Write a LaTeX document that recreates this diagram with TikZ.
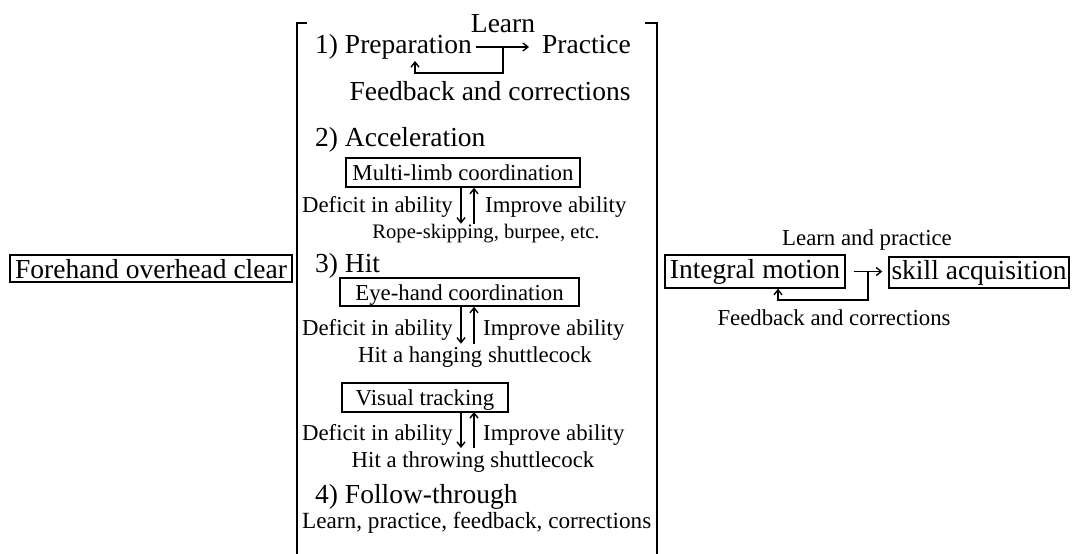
\documentclass[tikz,border=0pt]{standalone}
\usepackage{fontspec}
\setmainfont{Liberation Serif}
\usetikzlibrary{arrows.meta}
\begin{document}
\begin{tikzpicture}[x=1pt,y=-1pt,
  big/.style={font=\fontsize{27.5}{30}\selectfont, inner sep=0pt},
  small/.style={font=\fontsize{22.8}{26}\selectfont, inner sep=0pt},
  tiny/.style={font=\fontsize{20.6}{24}\selectfont, inner sep=0pt},
  box/.style={draw, line width=1.4pt, inner sep=0pt, text height=16pt, text depth=0pt},
  ln/.style={line width=1.4pt},
  arr/.style={line width=1.4pt, -{Straight Barb[length=5pt,width=8pt]}},
  brk/.style={line width=1.8pt}]
\useasboundingbox (0,0) rectangle (1076,554);
% left box
\node[box, big, minimum width=282, minimum height=27, text height=19pt] (fo) at (151,268.5) {Forehand overhead clear};
% brackets
\coordinate (bl1) at (307,23); \coordinate (bl2) at (297,23); \coordinate (bl3) at (297,554);
\coordinate (br1) at (645,23); \coordinate (br2) at (657,23); \coordinate (br3) at (657,554);
\draw[brk] (bl1) -- (bl2) -- (bl3);
\draw[brk] (br1) -- (br2) -- (br3);
% 1) Preparation
\node[big, anchor=base west] (prep) at (315,53) {1) Preparation};
\node[big, anchor=base west] (prac) at (542,53) {Practice};
\node[big, anchor=base] (learn) at (503,32) {Learn};
\node[big, anchor=base] (fb1) at (490,100) {Feedback and corrections};
\coordinate (p1) at (476,47); \coordinate (p2) at (529,47);
\draw[arr] (p1) -- (p2);
\coordinate (q1) at (503,47); \coordinate (q2) at (503,73); \coordinate (q3) at (415,73); \coordinate (q4) at (415,61);
\draw[arr] (q1) -- (q2) -- (q3) -- (q4);
% 2) Acceleration
\node[big, anchor=base west] (acc) at (315,146) {2) Acceleration};
\node[box, small, minimum width=234, minimum height=29] (mlc) at (463,172.5) {Multi-limb coordination};
\draw[arr] ([xshift=-2pt]mlc.south) -- ++(0,36);
\draw[arr] ([xshift=11pt]mlc.south) ++(0,36) coordinate (u1) -- (u1 |- mlc.south);
\node[small, anchor=base east] (d1) at (453,212) {Deficit in ability};
\node[small, anchor=base west] (i1) at (485,212) {Improve ability};
\node[tiny, anchor=base] (rope) at (486,238) {Rope-skipping, burpee, etc.};
% 3) Hit
\node[big, anchor=base west] (hit) at (315,272) {3) Hit};
\node[box, small, minimum width=239, minimum height=28] (ehc) at (459.5,292) {Eye-hand coordination};
\draw[arr] ([xshift=1.5pt]ehc.south) -- ++(0,37);
\draw[arr] ([xshift=14.5pt]ehc.south) ++(0,37) coordinate (u2) -- (u2 |- ehc.south);
\node[small, anchor=base east] (d2) at (453,335) {Deficit in ability};
\node[small, anchor=base west] (i2) at (483,335) {Improve ability};
\node[small, anchor=base] (hang) at (475,362) {Hit a hanging shuttlecock};
\node[box, small, minimum width=166, minimum height=29] (vt) at (425,397.5) {Visual tracking};
\coordinate (v1) at (461,412); \coordinate (v2) at (461,448);
\coordinate (w1) at (474,448); \coordinate (w2) at (474,412);
\draw[arr] (v1) -- (v2);
\draw[arr] (w1) -- (w2);
\node[small, anchor=base east] (d3) at (453,440) {Deficit in ability};
\node[small, anchor=base west] (i3) at (483,440) {Improve ability};
\node[small, anchor=base] (throw) at (473,467) {Hit a throwing shuttlecock};
% 4) Follow-through
\node[big, anchor=base west] (fol) at (315,503) {4) Follow-through};
\node[font=\fontsize{23.2}{26}\selectfont, inner sep=0pt, anchor=base west] (lpf) at (302,528) {Learn, practice, feedback, corrections};
% right part
\node[box, big, minimum width=180, minimum height=33, text height=19pt, text depth=6pt] (im) at (755,271.5) {Integral motion};
\node[box, big, minimum width=180, minimum height=31, text height=19pt, text depth=6pt] (sk) at (979,272.5) {skill acquisition};
\draw[arr] ([xshift=8pt]im.east) -- ([xshift=-6pt]im.east -| sk.west);
\coordinate (r1) at (868,272); \coordinate (r2) at (868,300); \coordinate (r3) at (778,300);
\draw[arr] (r1) -- (r2) -- (r3) -- (r3 |- im.south);
\node[small, anchor=base] (lap) at (867,245) {Learn and practice};
\node[small, anchor=base] (fb2) at (834,325) {Feedback and corrections};
\end{tikzpicture}
\end{document}
